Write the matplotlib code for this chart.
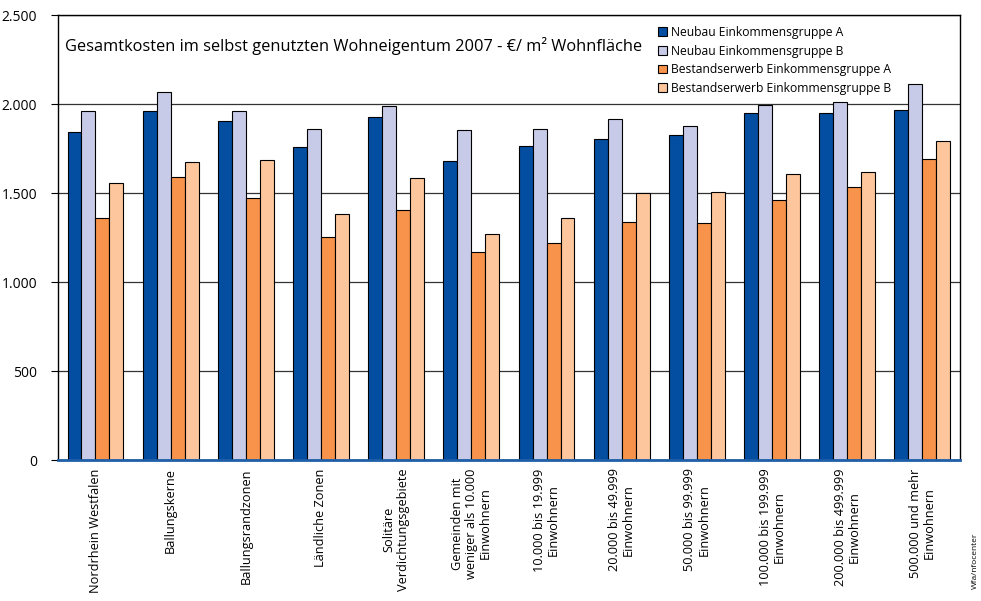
import numpy as np
import matplotlib.pyplot as plt
from matplotlib.ticker import FuncFormatter

plt.rcParams['font.family'] = ['Open Sans', 'DejaVu Sans']

categories = [
    'Nordrhein Westfalen', 'Ballungskerne', 'Ballungsrandzonen',
    'Ländliche Zonen', 'Solitäre\nVerdichtungsgebiete',
    'Gemeinden mit\nweniger als 10.000\nEinwohnern',
    '10.000 bis 19.999\nEinwohnern', '20.000 bis 49.999\nEinwohnern',
    '50.000 bis 99.999\nEinwohnern', '100.000 bis 199.999\nEinwohnern',
    '200.000 bis 499.999\nEinwohnern', '500.000 und mehr\nEinwohnern',
]
series_names = [
    'Neubau Einkommensgruppe A',
    'Neubau Einkommensgruppe B',
    'Bestandserwerb Einkommensgruppe A',
    'Bestandserwerb Einkommensgruppe B',
]
neubau_a = [1841, 1959, 1904, 1758, 1927, 1680, 1764, 1803, 1828, 1949, 1951, 1964]
neubau_b = [1962, 2067, 1961, 1858, 1987, 1856, 1861, 1918, 1878, 1994, 2013, 2111]
bestand_a = [1358, 1592, 1474, 1255, 1404, 1169, 1221, 1339, 1331, 1459, 1532, 1689]
bestand_b = [1554, 1676, 1687, 1384, 1584, 1270, 1361, 1500, 1508, 1607, 1616, 1792]
colors = ['#044ea1', '#c8cbe8', '#f7934a', '#fdc69c']

fig = plt.figure(figsize=(9.81, 6.01), dpi=100)
ax = fig.add_axes([0.059, 0.2346, 0.9196, 0.7404])

x = np.arange(len(categories))
w = 0.186
for i, (vals, name, c) in enumerate(zip([neubau_a, neubau_b, bestand_a, bestand_b],
                                         series_names, colors)):
    ax.bar(x + (i - 1.5) * w, vals, w, color=c, edgecolor='black',
           linewidth=0.8, label=name, zorder=3)

ax.set_xlim(-0.5, len(categories) - 0.5)
ax.set_ylim(0, 2500)
ax.set_yticks(range(0, 2501, 500))
ax.yaxis.set_major_formatter(FuncFormatter(lambda v, p: f'{int(v):,}'.replace(',', '.')))
ax.grid(axis='y', color='#333333', linewidth=0.9, zorder=0)
ax.tick_params(axis='y', labelsize=10, length=5, width=0.8, pad=10)
ax.set_xticks(x)
ax.set_xticklabels(categories, rotation=90, fontsize=9.2, ha='center', va='top',
                   multialignment='center', linespacing=1.1)
ax.tick_params(axis='x', length=0, pad=6)
for s in ['top', 'right', 'left']:
    ax.spines[s].set_linewidth(1.0)
ax.spines['bottom'].set_color('#1f5fa8')
ax.spines['bottom'].set_linewidth(2)
ax.spines['bottom'].set_zorder(4)

ax.text(0.008, 0.93, 'Gesamtkosten im selbst genutzten Wohneigentum 2007 - €/ m² Wohnfläche',
        transform=ax.transAxes, fontsize=11.8, va='center', ha='left')

ax.legend(loc='upper left', bbox_to_anchor=(0.653, 1.0), frameon=False, fontsize=8.7,
          handlelength=0.75, handleheight=0.75, handletextpad=0.3,
          labelspacing=0.47, borderpad=0.4)

fig.text(0.994, 0.02, 'Wfa/nfocenter', rotation=90, fontsize=6, ha='center', va='bottom')

fig.savefig('out.png', dpi=100)
